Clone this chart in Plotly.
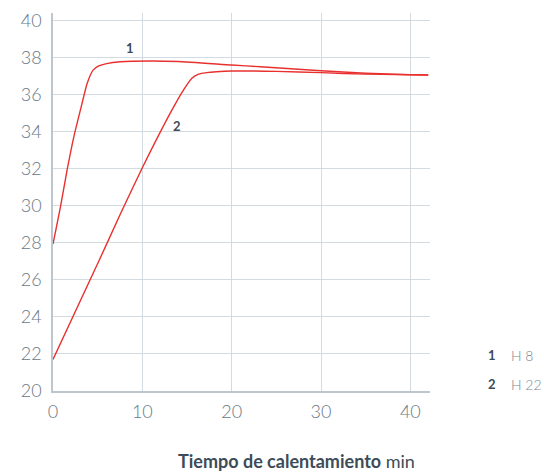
import plotly.graph_objects as go

# Data
t1 = [0, 0.84, 1.58, 2.33, 3.07, 3.82, 4.49, 5.12, 6.0, 7.54, 10.9, 14, 20, 23.2, 30, 35, 40, 42]
h8 = [27.93, 29.95, 31.93, 33.72, 35.17, 36.6, 37.32, 37.54, 37.67, 37.77, 37.81, 37.78, 37.59, 37.5, 37.28, 37.15, 37.07, 37.05]
t2 = [0, 5.12, 7.54, 10, 13.32, 14.6, 15.55, 16.3, 17.2, 18.3, 20, 25, 30, 35, 42]
h22 = [21.7, 27.0, 29.55, 32.05, 35.17, 36.24, 36.88, 37.1, 37.18, 37.23, 37.27, 37.25, 37.18, 37.1, 37.05]

series_names = ["H 8", "H 22"]
series_nums = ["1", "2"]
x_ticks = [0, 10, 20, 30, 40]
y_ticks = [20, 22, 24, 26, 28, 30, 32, 34, 36, 38, 40]

red = "#e8312f"
grid = "#d3dae0"
tickc = "#687986"
dark = "#3d4c58"

fig = go.Figure()
for tx, ty, nm in [(t1, h8, series_names[0]), (t2, h22, series_names[1])]:
    fig.add_trace(go.Scatter(x=tx, y=ty, mode="lines", name=nm,
                             line=dict(color=red, width=1.4, shape="spline", smoothing=0.5),
                             showlegend=False, hoverinfo="skip"))

tickfont = dict(size=18, color=tickc, family="Lato", weight=300)
fig.update_layout(
    width=544, height=472,
    margin=dict(l=53, r=114, t=13, b=81),
    paper_bgcolor="white", plot_bgcolor="white",
    font=dict(family="Lato", color=tickc),
    xaxis=dict(range=[0, 42.2], tickvals=x_ticks, showgrid=True, gridcolor=grid, gridwidth=1,
               zeroline=False, showline=True, linecolor="#bcc6ce", linewidth=1.5,
               tickfont=tickfont, ticks="outside", ticklen=4, tickcolor="white",
               automargin=False),
    yaxis=dict(range=[20, 40.4], tickvals=y_ticks, showgrid=True, gridcolor=grid, gridwidth=1,
               zeroline=False, showline=True, linecolor="#bcc6ce", linewidth=1.5,
               tickfont=tickfont, ticks="outside", ticklen=6, tickcolor="white",
               automargin=False),
)

# curve labels
fig.add_annotation(x=8.6, y=38.5, text="<b>1</b>", showarrow=False,
                   font=dict(size=13, color=dark, family="Lato"))
fig.add_annotation(x=13.9, y=34.3, text="<b>2</b>", showarrow=False,
                   font=dict(size=13, color=dark, family="Lato"))

# legend as annotations
PW = 544 - 53 - 114
PH = 472 - 13 - 81
for i, (num, nm) in enumerate(zip(series_nums, series_names)):
    ypix = 355 + i * 29
    yp = 1 - (ypix - 13) / PH
    fig.add_annotation(xref="paper", yref="paper", x=(492 - 53) / PW, y=yp,
                       text="<b>" + num + "</b>", showarrow=False, xanchor="center", yanchor="middle",
                       font=dict(size=13, color=dark, family="Lato"))
    fig.add_annotation(xref="paper", yref="paper", x=(509 - 53) / PW, y=yp,
                       text=nm, showarrow=False, xanchor="left", yanchor="middle",
                       font=dict(size=14, color="#7a8792", family="Lato", weight=300))

# axis title
fig.add_annotation(xref="paper", yref="paper", x=(296 - 53) / PW,
                   y=1 - (461 - 13) / PH, xanchor="center", yanchor="middle",
                   text="<b>Tiempo de calentamiento</b> min", showarrow=False,
                   font=dict(size=18, color=dark, family="Lato"))

fig.write_html("out.html", config={"displayModeBar": False},
               post_script="document.body.style.margin='0';document.body.style.overflow='hidden';")
